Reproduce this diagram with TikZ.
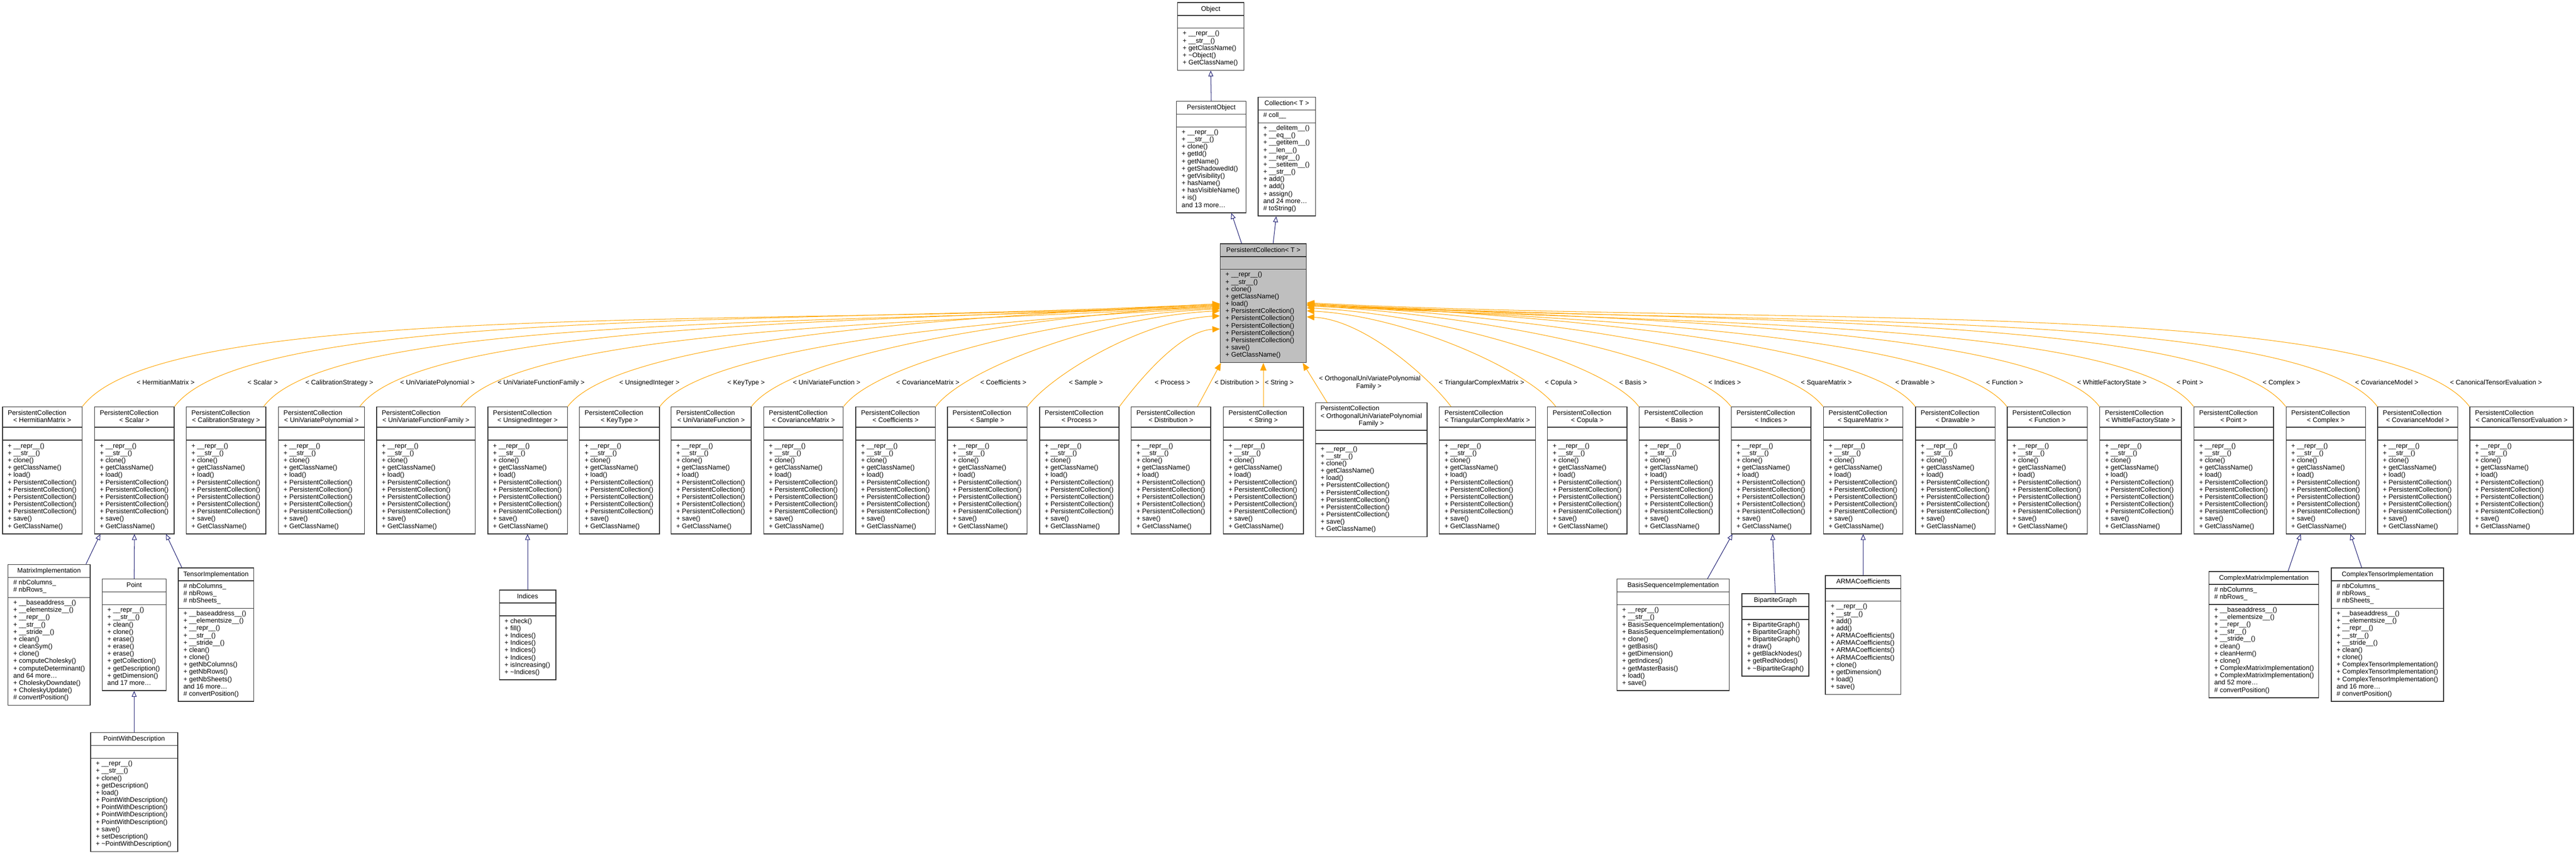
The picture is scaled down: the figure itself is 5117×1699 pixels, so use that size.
\documentclass[tikz,border=0pt]{standalone}
\usepackage{fontspec}
\setmainfont{Liberation Sans}
\usetikzlibrary{arrows.meta,fit,calc}
\definecolor{edgeor}{HTML}{FFA500}
\definecolor{navy}{HTML}{191970}
\definecolor{pcgray}{HTML}{BFBFBF}
\definecolor{boxline}{HTML}{303030}
\newcommand\fs{\fontsize{7.5pt}{8.2pt}\selectfont}
\tikzset{
  boxd/.style={draw=boxline, line width=0.85pt, inner sep=0pt},
  sep/.style={draw=boxline, line width=0.85pt},
  txt/.style={font=\fs, inner sep=0pt},
  lbl/.style={font=\fs, inner sep=0pt},
  tmpl/.style={draw=edgeor, line width=0.6pt, -{Triangle[length=8.5pt,width=7pt]}},
  inh/.style={draw=navy, line width=0.6pt, -{Triangle[length=6.5pt,width=5.5pt,fill=white]}}
}
\def\pcmethods{+ \_\_repr\_\_(),+ \_\_str\_\_(),+ clone(),+ getClassName(),+ load(),+ PersistentCollection(),+ PersistentCollection(),+ PersistentCollection(),+ PersistentCollection(),+ PersistentCollection(),+ save(),+ GetClassName()}
% generic class box: name, x1, x2, top, title, fill, attrs, methods
\newcommand\umlclass[8]{%
  \pgfmathsetmacro\hb{#4+25.5}%
  \def\cna{0}\def\tmpa{#7}%
  \ifx\tmpa\empty\else\foreach \itm [count=\cnt] in {#7} {\xdef\cna{\cnt}}\fi
  \def\cnm{0}\foreach \itm [count=\cnt] in {#8} {\xdef\cnm{\cnt}}%
  \pgfmathsetmacro\ab{\hb+14.5*max(\cna,1)+11}%
  \pgfmathsetmacro\bt{\ab+14.5*\cnm+11}%
  \node[boxd, fill=#6, fit={(#2,#4) (#3,\bt)}] (#1) {};
  \draw[sep] (#2,\hb) -- (#3,\hb);
  \draw[sep] (#2,\ab) -- (#3,\ab);
  \node[txt, anchor=base] (#1-t) at ({(#2+#3)/2},#4+16.5) {#5};
  \ifx\tmpa\empty\else\foreach \itm [count=\cnt] in {#7} {\node[txt, anchor=base west] (#1-a\cnt) at (#2+10,\hb+14.5*\cnt) {\itm};}\fi
  \foreach \itm [count=\cnt] in {#8} {\node[txt, anchor=base west] (#1-m\cnt) at (#2+10,\ab+14.5*\cnt) {\itm};}
}
% PersistentCollection< X > box: name, x1, x2, label
\newcommand\pcbox[4]{%
  \node[boxd, fill=white, fit={(#2,808) (#3,1060)}] (#1) {};
  \draw[sep] (#2,848.5) -- (#3,848.5);
  \draw[sep] (#2,874) -- (#3,874);
  \node[txt, anchor=base west] (#1-t1) at (#2+10,824) {PersistentCollection};
  \node[txt, anchor=base] (#1-t2) at ({(#2+#3)/2},838.5) {< #4 >};
  \foreach \itm [count=\cnt] in \pcmethods {\node[txt, anchor=base west] (#1-m\cnt) at (#2+10,875+14.5*\cnt) {\itm};}
}
% template edge: start, sx, ex, side, ey
\newcommand\tedge[5]{%
  \pgfmathsetmacro\dd{abs(#3-#2)}%
  \pgfmathsetmacro\kk{0.1*\dd+40}%
  \pgfmathsetmacro\sg{(#3>#2)?1:-1}%
  \pgfmathsetmacro\ys{-(#5-484)*0.02}%
  \draw[tmpl] (#1) .. controls +({\sg*0.6*\kk},{-0.8*\kk}) and +({-\sg*0.4*\dd},{0.02*\dd}) .. ([yshift=\ys cm]pc.north #4);
}
\begin{document}
\begin{tikzpicture}[x=0.02cm,y=-0.02cm]
\useasboundingbox (0,0) rectangle (5117,1699);
\fill[white] (0,0) rectangle (5117,1699);

% ---- top classes
\umlclass{obj}{2339}{2471}{5}{Object}{white}{}{+ \_\_repr\_\_(),+ \_\_str\_\_(),+ getClassName(),+ \textasciitilde Object(),+ GetClassName()}
\umlclass{po}{2337}{2475}{201}{PersistentObject}{white}{}{+ \_\_repr\_\_(),+ \_\_str\_\_(),+ clone(),+ getId(),+ getName(),+ getShadowedId(),+ getVisibility(),+ hasName(),+ hasVisibleName(),+ is(),and 13 more\ldots}
\umlclass{coll}{2499}{2613}{193}{Collection< T >}{white}{\# coll\_\_}{+ \_\_delitem\_\_(),+ \_\_eq\_\_(),+ \_\_getitem\_\_(),+ \_\_len\_\_(),+ \_\_repr\_\_(),+ \_\_setitem\_\_(),+ \_\_str\_\_(),+ add(),+ add(),+ assign(),and 24 more\ldots,\# toString()}
\umlclass{pc}{2424}{2595}{484}{PersistentCollection< T >}{pcgray}{}{+ \_\_repr\_\_(),+ \_\_str\_\_(),+ clone(),+ getClassName(),+ load(),+ PersistentCollection(),+ PersistentCollection(),+ PersistentCollection(),+ PersistentCollection(),+ PersistentCollection(),+ save(),+ GetClassName()}

% ---- row of PersistentCollection instances
\pcbox{hm}{5}{163}{HermitianMatrix}
\pcbox{sc}{188}{346}{Scalar}
\pcbox{cs}{370}{528}{CalibrationStrategy}
\pcbox{uvp}{553}{724}{UniVariatePolynomial}
\pcbox{uvff}{748}{944}{UniVariateFunctionFamily}
\pcbox{ui}{969}{1127}{UnsignedInteger}
\pcbox{kt}{1151}{1310}{KeyType}
\pcbox{uvf}{1333}{1492}{UniVariateFunction}
\pcbox{cvm}{1517}{1675}{CovarianceMatrix}
\pcbox{coef}{1700}{1858}{Coefficients}
\pcbox{smp}{1882}{2040}{Sample}
\pcbox{prc}{2065}{2223}{Process}
\pcbox{dst}{2247}{2405}{Distribution}
\pcbox{strg}{2430}{2589}{String}
\node[boxd, fill=white, fit={(2613,800) (2835,1066)}] (ortho) {};
\draw[sep] (2613,854.5) -- (2835,854.5);
\draw[sep] (2613,881) -- (2835,881);
\node[txt, anchor=base west] (ortho-t1) at (2623,815.5) {PersistentCollection};
\node[txt, anchor=base] (ortho-t2) at (2724,830) {< OrthogonalUniVariatePolynomial};
\node[txt, anchor=base] (ortho-t3) at (2724,844.5) {Family >};
\foreach \itm [count=\cnt] in \pcmethods {\node[txt, anchor=base west] (ortho-m\cnt) at (2623,881+14.5*\cnt) {\itm};}
\pcbox{tcm}{2859}{3050}{TriangularComplexMatrix}
\pcbox{cop}{3074}{3232}{Copula}
\pcbox{bas}{3256}{3415}{Basis}
\pcbox{pind}{3439}{3597}{Indices}
\pcbox{sqm}{3622}{3780}{SquareMatrix}
\pcbox{drw}{3805}{3963}{Drawable}
\pcbox{fun}{3987}{4146}{Function}
\pcbox{wfs}{4171}{4333}{WhittleFactoryState}
\pcbox{ppt}{4358}{4516}{Point}
\pcbox{cpx}{4541}{4699}{Complex}
\pcbox{cvmod}{4723}{4882}{CovarianceModel}
\pcbox{cte}{4906}{5112}{CanonicalTensorEvaluation}

% ---- subclasses
\umlclass{mi}{16}{179}{1121}{MatrixImplementation}{white}{\# nbColumns\_,\# nbRows\_}{+ \_\_baseaddress\_\_(),+ \_\_elementsize\_\_(),+ \_\_repr\_\_(),+ \_\_str\_\_(),+ \_\_stride\_\_(),+ clean(),+ cleanSym(),+ clone(),+ computeCholesky(),+ computeDeterminant(),and 64 more\ldots,+ CholeskyDowndate(),+ CholeskyUpdate(),\# convertPosition()}
\umlclass{pt}{203}{330}{1150}{Point}{white}{}{+ \_\_repr\_\_(),+ \_\_str\_\_(),+ clean(),+ clone(),+ erase(),+ erase(),+ erase(),+ getCollection(),+ getDescription(),+ getDimension(),and 17 more\ldots}
\umlclass{ti}{354}{504}{1128}{TensorImplementation}{white}{\# nbColumns\_,\# nbRows\_,\# nbSheets\_}{+ \_\_baseaddress\_\_(),+ \_\_elementsize\_\_(),+ \_\_repr\_\_(),+ \_\_str\_\_(),+ \_\_stride\_\_(),+ clean(),+ clone(),+ getNbColumns(),+ getNbRows(),+ getNbSheets(),and 16 more\ldots,\# convertPosition()}
\umlclass{pwd}{180}{353}{1455}{PointWithDescription}{white}{}{+ \_\_repr\_\_(),+ \_\_str\_\_(),+ clone(),+ getDescription(),+ load(),+ PointWithDescription(),+ PointWithDescription(),+ PointWithDescription(),+ PointWithDescription(),+ save(),+ setDescription(),+ \textasciitilde PointWithDescription()}
\umlclass{ind}{992}{1104}{1172}{Indices}{white}{}{+ check(),+ fill(),+ Indices(),+ Indices(),+ Indices(),+ Indices(),+ isIncreasing(),+ \textasciitilde Indices()}
\umlclass{bsi}{3212}{3435}{1150}{BasisSequenceImplementation}{white}{}{+ \_\_repr\_\_(),+ \_\_str\_\_(),+ BasisSequenceImplementation(),+ BasisSequenceImplementation(),+ clone(),+ getBasis(),+ getDimension(),+ getIndices(),+ getMasterBasis(),+ load(),+ save()}
\umlclass{bg}{3460}{3593}{1179}{BipartiteGraph}{white}{}{+ BipartiteGraph(),+ BipartiteGraph(),+ BipartiteGraph(),+ draw(),+ getBlackNodes(),+ getRedNodes(),+ \textasciitilde BipartiteGraph()}
\umlclass{arma}{3626}{3776}{1143}{ARMACoefficients}{white}{}{+ \_\_repr\_\_(),+ \_\_str\_\_(),+ add(),+ add(),+ ARMACoefficients(),+ ARMACoefficients(),+ ARMACoefficients(),+ ARMACoefficients(),+ clone(),+ getDimension(),+ load(),+ save()}
\umlclass{cmi}{4388}{4606}{1135}{ComplexMatrixImplementation}{white}{\# nbColumns\_,\# nbRows\_}{+ \_\_baseaddress\_\_(),+ \_\_elementsize\_\_(),+ \_\_repr\_\_(),+ \_\_str\_\_(),+ \_\_stride\_\_(),+ clean(),+ cleanHerm(),+ clone(),+ ComplexMatrixImplementation(),+ ComplexMatrixImplementation(),and 52 more\ldots,\# convertPosition()}
\umlclass{cti}{4631}{4854}{1128}{ComplexTensorImplementation}{white}{\# nbColumns\_,\# nbRows\_,\# nbSheets\_}{+ \_\_baseaddress\_\_(),+ \_\_elementsize\_\_(),+ \_\_repr\_\_(),+ \_\_str\_\_(),+ \_\_stride\_\_(),+ clean(),+ clone(),+ ComplexTensorImplementation(),+ ComplexTensorImplementation(),+ ComplexTensorImplementation(),and 16 more\ldots,\# convertPosition()}

% ---- inheritance edges (top)
\draw[inh] (po.north) -- (obj.south);
\draw[inh] ($(pc.north west)+(43,0)$) -- ($(po.south)+(40,0)$);
\draw[inh] ($(pc.north)+(19.5,0)$) -- ($(coll.south)+(-21,0)$);

% ---- inheritance edges (bottom)
\draw[inh] ($(mi.north east)+(-9,0)$) -- ($(sc.south west)+(12,0)$);
\draw[inh] (pt.north) -- (sc.south);
\draw[inh] ($(ti.north west)+(8,0)$) -- ($(sc.south east)+(-17,0)$);
\draw[inh] (pwd.north) -- (pt.south);
\draw[inh] (ind.north) -- (ui.south);
\draw[inh] ($(bsi.north east)+(-44,0)$) -- ($(pind.south west)+(3,0)$);
\draw[inh] (bg.north) -- ($(pind.south)+(3,0)$);
\draw[inh] (arma.north) -- (sqm.south);
\draw[inh] ($(cmi.north)+(48,0)$) -- ($(cpx.south)+(-50,0)$);
\draw[inh] ($(cti.north west)+(61,0)$) -- ($(cpx.south)+(49,0)$);

% ---- template instantiation edges
\tedge{hm.north east}{163}{2424}{west}{606}
\tedge{sc.north east}{346}{2424}{west}{604}
\tedge{$(cs.north east)+(-5,0)$}{523}{2424}{west}{608}
\tedge{$(uvp.north east)+(-10,0)$}{714}{2424}{west}{606}
\tedge{$(uvff.north east)+(-29,0)$}{915}{2424}{west}{610}
\tedge{ui.north east}{1127}{2424}{west}{604}
\tedge{kt.north east}{1310}{2424}{west}{612}
\tedge{uvf.north east}{1492}{2424}{west}{608}
\tedge{cvm.north east}{1675}{2424}{west}{614}
\tedge{coef.north east}{1858}{2424}{west}{618}
\tedge{smp.north east}{2040}{2424}{west}{628}
\tedge{prc.north east}{2223}{2424}{west}{654}
\draw[tmpl] ($(dst.north east)+(-27,0)$) -- ($(pc.south west)+(2,0)$);
\draw[tmpl] (strg.north) -- (pc.south);
\draw[tmpl] ($(ortho.north west)+(24,0)$) -- ($(pc.south east)+(-8,0)$);
\tedge{$(tcm.north west)+(24,0)$}{2883}{2595}{east}{630}
\tedge{$(cop.north west)+(17,0)$}{3091}{2595}{east}{618}
\tedge{bas.north west}{3256}{2595}{east}{612}
\tedge{pind.north west}{3439}{2595}{east}{608}
\tedge{sqm.north west}{3622}{2595}{east}{606}
\tedge{drw.north west}{3805}{2595}{east}{604}
\tedge{fun.north west}{3987}{2595}{east}{606}
\tedge{wfs.north west}{4171}{2595}{east}{604}
\tedge{ppt.north west}{4358}{2595}{east}{608}
\tedge{cpx.north west}{4541}{2595}{east}{604}
\tedge{cvmod.north west}{4723}{2595}{east}{606}
\tedge{cte.north west}{4906}{2595}{east}{602}

% ---- edge labels
\node[lbl, anchor=base] (l-hm) at (329,764) {< HermitianMatrix >};
\node[lbl, anchor=base] (l-sc) at (522,764) {< Scalar >};
\node[lbl, anchor=base] (l-cs) at (674,764) {< CalibrationStrategy >};
\node[lbl, anchor=base] (l-uvp) at (869,764) {< UniVariatePolynomial >};
\node[lbl, anchor=base] (l-uvff) at (1075,764) {< UniVariateFunctionFamily >};
\node[lbl, anchor=base] (l-ui) at (1290,764) {< UnsignedInteger >};
\node[lbl, anchor=base] (l-kt) at (1482,764) {< KeyType >};
\node[lbl, anchor=base] (l-uvf) at (1642,764) {< UniVariateFunction >};
\node[lbl, anchor=base] (l-cvm) at (1843,764) {< CovarianceMatrix >};
\node[lbl, anchor=base] (l-coef) at (1993,764) {< Coefficients >};
\node[lbl, anchor=base] (l-smp) at (2157,764) {< Sample >};
\node[lbl, anchor=base] (l-prc) at (2329,764) {< Process >};
\node[lbl, anchor=base] (l-dst) at (2457,764) {< Distribution >};
\node[lbl, anchor=base] (l-strg) at (2541,764) {< String >};
\node[lbl, anchor=base] (l-ortho1) at (2721,756) {< OrthogonalUniVariatePolynomial};
\node[lbl, anchor=base] (l-ortho2) at (2719,771) {Family >};
\node[lbl, anchor=base] (l-tcm) at (2943,764) {< TriangularComplexMatrix >};
\node[lbl, anchor=base] (l-cop) at (3101,764) {< Copula >};
\node[lbl, anchor=base] (l-bas) at (3244,764) {< Basis >};
\node[lbl, anchor=base] (l-pind) at (3426,764) {< Indices >};
\node[lbl, anchor=base] (l-sqm) at (3628,764) {< SquareMatrix >};
\node[lbl, anchor=base] (l-drw) at (3804,764) {< Drawable >};
\node[lbl, anchor=base] (l-fun) at (3982,764) {< Function >};
\node[lbl, anchor=base] (l-wfs) at (4195,764) {< WhittleFactoryState >};
\node[lbl, anchor=base] (l-ppt) at (4350,764) {< Point >};
\node[lbl, anchor=base] (l-cpx) at (4532,764) {< Complex >};
\node[lbl, anchor=base] (l-cvmod) at (4741,764) {< CovarianceModel >};
\node[lbl, anchor=base] (l-cte) at (4958,764) {< CanonicalTensorEvaluation >};
\end{tikzpicture}
\end{document}
